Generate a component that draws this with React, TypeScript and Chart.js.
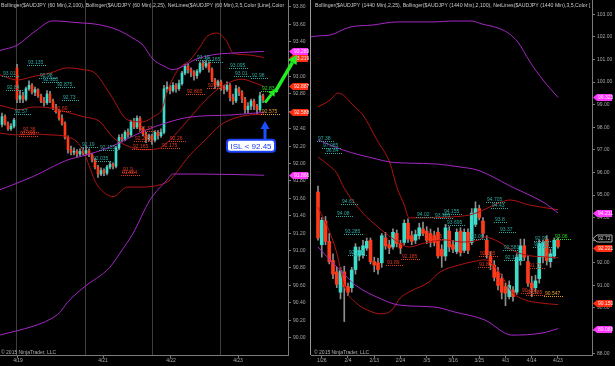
import { useEffect, useRef } from "react";
import { Chart, registerables } from "chart.js";

Chart.register(...registerables);

const FONT = '"Liberation Sans", Arial, sans-serif';

// ---------------- LEFT PANEL: AUDJPY 60 Min ----------------
const leftOpen = [92.45,92.54,92.46,92.40,92.43,93.10,92.74,92.78,92.74,92.86, 92.90,92.82,92.85,92.78,92.72,92.70,92.80,92.72,92.64,92.60, 92.52,92.46,92.30,92.16,92.13,92.14,92.11,92.14,92.12,92.15, 92.10,92.04,91.96,91.88,91.92,91.89,91.96,91.99,91.97,92.18, 92.30,92.28,92.36,92.33,92.48,92.42,92.52,92.40,92.34,92.28, 92.32,92.27,92.36,92.32,92.36,92.86,92.88,92.84,92.90,92.86, 92.92,93.04,93.12,93.08,93.05,93.01,93.06,93.15,93.12,93.15, 93.08,92.96,92.90,92.94,92.88,92.85,92.90,92.76,92.72,92.86, 92.82,92.74,92.62,92.66,92.72,92.66,92.62,92.78];
const leftHigh = [92.58,92.56,92.48,92.46,92.52,93.14,92.84,92.82,92.88,92.95, 92.92,92.88,92.86,92.80,92.76,92.84,92.83,92.74,92.68,92.62, 92.56,92.48,92.32,92.20,92.18,92.16,92.17,92.18,92.20,92.17, 92.12,92.06,91.98,91.95,91.94,91.98,92.02,92.01,92.20,92.33, 92.34,92.38,92.40,92.50,92.52,92.55,92.54,92.42,92.36,92.34, 92.34,92.38,92.38,92.40,92.90,92.94,92.90,92.93,92.92,92.96, 93.06,93.14,93.15,93.10,93.07,93.08,93.17,93.18,93.18,93.17, 93.10,92.98,92.96,92.96,92.90,92.94,92.92,92.80,92.90,92.88, 92.84,92.76,92.70,92.74,92.74,92.68,92.82,92.80];
const leftLow = [92.42,92.44,92.38,92.38,92.41,92.70,92.70,92.70,92.72,92.84, 92.80,92.78,92.76,92.70,92.66,92.68,92.70,92.62,92.58,92.50, 92.44,92.28,92.12,92.10,92.10,92.08,92.09,92.10,92.10,92.08, 92.02,91.94,91.84,91.86,91.86,91.87,91.94,91.94,91.95,92.16, 92.25,92.26,92.30,92.31,92.40,92.40,92.38,92.32,92.24,92.26, 92.22,92.25,92.28,92.30,92.34,92.82,92.80,92.82,92.82,92.84, 92.90,93.02,93.04,93.00,92.96,92.98,93.04,93.08,93.10,93.05, 92.94,92.86,92.88,92.84,92.80,92.83,92.72,92.68,92.70,92.78, 92.70,92.58,92.58,92.62,92.62,92.57,92.60,92.70];
const leftClose = [92.54,92.46,92.40,92.43,92.50,92.74,92.78,92.74,92.86,92.90, 92.82,92.85,92.78,92.72,92.70,92.80,92.72,92.64,92.60,92.52, 92.46,92.30,92.16,92.13,92.14,92.11,92.14,92.12,92.15,92.10, 92.04,91.96,91.88,91.92,91.89,91.96,91.99,91.97,92.18,92.30, 92.28,92.36,92.33,92.48,92.42,92.52,92.40,92.34,92.28,92.32, 92.27,92.36,92.32,92.36,92.86,92.88,92.84,92.90,92.86,92.92, 93.04,93.12,93.08,93.05,93.01,93.06,93.15,93.12,93.15,93.08, 92.96,92.90,92.94,92.88,92.85,92.90,92.76,92.72,92.86,92.82, 92.74,92.62,92.66,92.72,92.66,92.62,92.78,92.73];

const leftDateLabels = ["4/19", "4/21", "4/22", "4/23"];
const leftDateTickIdx = [5.33, 33.67, 56.33, 78.67];
const leftSessionBreaks = [4.5, 27.5, 50, 72.5];
const leftYTicks = [90.0,90.2,90.4,90.6,90.8,91.0,91.2,91.4,91.6,91.8,92.0,92.2,92.4,92.6,92.8,93.0,93.2,93.4,93.6,93.8];

const leftBB100Upper = [[-0.67,93.30],[5,93.36],[11,93.52],[17,93.64],[25,93.62],[31.7,93.60],[38.3,93.54],[43.7,93.44],[47,93.36],[50.3,93.20],[54,93.12],[57,93.08],[61,93.13],[64,93.19],[70.3,93.25],[77,93.27],[87.3,93.289]];
const leftBB100Mid = [[-0.67,91.70],[10.3,91.85],[21.7,92.04],[28.3,92.10],[36,92.19],[48.3,92.39],[55,92.47],[61.7,92.53],[77,92.56],[87.3,92.588]];
const leftBB100Lower = [[-0.67,90.03],[10.3,90.13],[16,90.21],[19.3,90.29],[21.7,90.40],[27,90.57],[36,90.81],[39.3,90.97],[43.7,91.20],[49.3,91.58],[55,91.81],[57,91.88],[66,91.88],[87.3,91.866]];
const leftBB25Upper = [[-0.67,93.02],[5,92.96],[10.3,93.0],[16,93.04],[21.7,93.10],[27,93.08],[31,93.04],[36,92.80],[42,92.50],[46.7,92.48],[51,92.55],[53.3,92.62],[55,92.82],[58.7,93.08],[62.7,93.19],[66,93.34],[68.3,93.46],[71.7,93.50],[75,93.40],[77,93.27],[81.7,93.25],[87.3,93.219]];
const leftBB25Mid = [[-0.67,92.67],[6,92.62],[10.3,92.65],[16,92.64],[21.7,92.59],[27,92.54],[32.7,92.48],[37,92.30],[42,92.20],[47,92.16],[52,92.17],[55,92.24],[60,92.42],[65,92.62],[70,92.80],[75,92.92],[80,92.97],[84,92.93],[87.3,92.887]];
const leftBB25Lower = [[-0.67,92.35],[5,92.33],[10.3,92.34],[16,92.33],[21.7,92.31],[25,92.25],[27,92.15],[29,91.98],[31,91.80],[33,91.70],[37,91.62],[41.7,91.73],[47,91.73],[53,91.76],[56,91.81],[57.5,91.87],[62.7,92.10],[67.7,92.27],[72.7,92.44],[79.3,92.54],[87.3,92.57]];

// NetLines levels: [price text, starting bar index, kind]
const leftLevels: [string, number, string][] = [
  ["93.135", 8.7, "c"], ["93.01", 0.3, "c"], ["92.98", 12.7, "c"], ["92.935", 13.7, "c"],
  ["92.84", 1.7, "c"], ["92.875", 18.3, "c"], ["92.73", 20.3, "c"], ["92.57", 4.3, "c"],
  ["92.19", 26.7, "c"], ["92.155", 32.7, "c"], ["92.035", 30.3, "c"], ["93.19", 65, "c"],
  ["93.165", 67.7, "c"], ["93.095", 76, "c"], ["93.01", 77.7, "c"], ["92.98", 83.3, "c"],
  ["92.60", 17.7, "r"], ["92.36", 7, "r"], ["92.315", 6, "r"], ["92.37", 46, "r"],
  ["92.255", 44.3, "r"], ["92.165", 43.7, "r"], ["92.26", 56, "r"], ["92.175", 53.3, "r"],
  ["91.9", 40.3, "r"], ["91.864", 40, "r"], ["92.87", 68.7, "r"], ["92.805", 61.7, "r"],
  ["92.575", 86.7, "o"], ["92.83", 86.7, "g"],
];
const leftMarkers: [string, string][] = [["93.289", "pink"], ["93.219", "red"], ["92.887", "red"], ["92.588", "red"], ["91.866", "pink"]];

// annotations (data coordinates): arrows [fromIdx, fromPrice, toIdx, toPrice]
const leftGreenArrows = [[87.67, 92.70, 91, 92.85], [91, 92.82, 98.3, 93.25]];
const leftBlueArrow = [87.67, 92.27, 87.67, 92.49];
const leftNote = { idx: 83, price: 92.204, text: "ISL < 92.45" };

// ---------------- RIGHT PANEL: AUDJPY 1440 Min ----------------
const rightOpen = [95.13,92.80,93.85,92.95,92.10,91.60,90.70,91.60,90.95,90.90, 91.70,92.30,92.35,92.65,93.00,92.05,92.00,92.00,93.10,92.80, 92.70,93.30,92.85,92.90,93.75,93.20,93.00,93.20,93.50,93.40, 93.30,93.20,93.35,92.60,92.30,93.40,92.80,92.50,93.40,92.55, 93.35,92.90,93.70,94.40,93.85,93.00,92.30,91.90,91.60,91.30, 90.95,90.50,90.80,90.70,92.10,92.75,92.05,91.10,90.90,91.30, 92.25,93.05,92.05,92.30,93.00];
const rightHigh = [95.40,94.00,94.05,93.30,92.40,91.80,91.80,91.85,91.10,91.80, 92.85,92.70,93.00,93.10,93.10,92.25,92.20,93.30,93.35,93.00, 93.50,93.45,93.00,93.90,93.95,93.40,93.45,93.75,93.80,93.60, 93.50,93.40,93.55,92.80,93.70,93.60,93.00,93.50,93.55,93.50, 93.50,94.40,94.70,94.55,94.00,93.20,92.50,92.10,91.80,91.50, 91.10,91.20,90.95,92.40,93.05,93.05,92.30,91.40,91.45,93.00, 93.00,93.20,92.60,93.10,93.10];
const rightLow = [93.00,92.25,92.80,91.95,91.30,90.90,90.40,89.40,90.55,90.70, 91.50,92.10,92.20,92.55,91.95,91.60,91.50,91.80,92.60,92.40, 92.60,92.70,92.40,92.80,92.90,92.80,92.85,93.05,93.20,92.85, 92.70,92.75,92.20,91.80,92.10,92.50,92.45,92.40,92.30,92.45, 92.40,92.80,93.60,93.90,93.10,92.20,91.70,91.20,90.80,90.40, 90.10,90.40,90.30,90.60,91.90,92.10,90.95,90.50,90.70,91.10, 92.00,91.90,91.80,92.20,92.65];
const rightClose = [93.10,93.88,92.95,92.05,91.50,91.05,91.65,90.95,90.70,91.68, 92.70,92.55,92.75,92.95,92.05,91.90,91.70,93.20,92.75,92.65, 93.35,92.85,92.65,93.75,93.05,92.95,93.25,93.55,93.30,93.00, 92.90,92.90,92.30,92.30,93.55,92.70,92.60,93.35,92.45,93.35, 92.55,94.20,94.40,94.00,93.30,92.35,91.90,91.35,91.00,90.70, 90.65,91.00,90.50,92.25,92.75,92.25,91.10,90.90,91.20,92.85, 92.90,92.10,92.40,93.00,92.72];

const rightDateLabels = ["1/26", "2/4", "2/13", "2/24", "3/5", "3/16", "3/25", "4/3", "4/14", "4/23"];
const rightDateTickIdx = [1, 8, 15, 22, 29, 36, 43, 50, 57, 64];
const rightYTicks = [88,89,90,91,92,93,94,95,96,97,98,99,100,101,102,103];

const rightBB100Upper = [[-1.9,102.00],[0,102.04],[3.2,102.08],[8.5,102.43],[14.4,102.52],[21.3,102.66],[31.2,102.66],[35.7,102.70],[41,102.70],[43.7,102.57],[48,102.39],[50.7,102.17],[53.3,101.77],[56.5,100.90],[60,100.09],[64,99.323]];
const rightBB100Mid = [[0,97.44],[6.7,96.99],[15.7,96.59],[19.2,96.46],[24.5,96.41],[31.7,96.37],[37.9,96.24],[42.4,96.11],[46.7,95.80],[51.2,95.40],[54.7,95.13],[60,94.69],[64,94.211]];
const rightBB100Lower = [[0,92.70],[3.7,92.04],[7.2,91.46],[9.9,91.02],[16.3,90.44],[21.6,90.13],[31.2,90.04],[36.5,89.82],[44.5,89.47],[51.7,88.80],[60,88.90],[64,89.088]];
const rightBB25Upper = [[0,98.90],[3.2,99.20],[5.3,99.51],[6.7,99.43],[9.3,98.98],[12,98.54],[15.7,97.44],[19.2,96.41],[21,95.36],[23,94.56],[24.3,93.99],[28.5,93.99],[35.7,94.03],[40.5,94.12],[42.9,94.25],[48.3,94.65],[51.2,94.78],[56.3,94.56],[64,94.35]];
const rightBB25Mid = [[0,96.68],[3,96.30],[5,95.97],[7,95.30],[11.7,94.25],[16.3,93.54],[19.7,93.10],[24.3,92.70],[28.5,92.88],[33.9,93.01],[38.4,92.92],[42.9,93.01],[44.5,93.14],[48.3,92.92],[51.7,92.57],[55.2,92.35],[60.5,92.26],[64,92.221]];
const rightBB25Lower = [[0,94.46],[3,93.40],[5,92.44],[7.2,90.88],[9.9,90.27],[15.2,89.78],[17,89.74],[19.7,89.91],[21.9,90.44],[24.3,90.71],[29.6,91.15],[32.5,91.59],[37.6,91.90],[41,92.04],[44.5,92.13],[48.3,91.59],[51.7,90.71],[55.2,90.36],[58.9,90.23],[64,90.15]];

const rightLevels: [string, number, string][] = [
  ["97.38", 0, "c"], ["97.085", 1.3, "c"], ["96.84", 2.1, "c"], ["94.61", 6.4, "c"],
  ["94.08", 5.1, "c"], ["93.285", 7.2, "c"], ["92.335", 8.3, "c"], ["94.02", 26.4, "c"],
  ["93.985", 31.2, "c"], ["94.155", 33.6, "c"], ["93.695", 34.4, "c"], ["93.06", 40.8, "c"],
  ["94.705", 45.1, "c"], ["94.43", 46.4, "c"], ["93.8", 47.2, "c"], ["93.37", 48.5, "c"],
  ["92.581", 49.6, "c"], ["92.135", 49.9, "c"], ["92.95", 57.9, "c"], ["92.705", 57.6, "c"],
  ["92.185", 22.4, "r"], ["91.89", 18.4, "r"], ["93.035", 29.1, "r"], ["92.305", 43.2, "r"],
  ["91.8", 42.9, "r"], ["91.78", 56.3, "r"], ["90.68", 54.4, "r"], ["90.585", 55.7, "r"],
  ["90.547", 60.5, "o"], ["93.06", 63.2, "g"],
];
const rightMarkers: [string, string][] = [["99.323", "pink"], ["94.211", "pink"], ["92.72", "box"], ["92.221", "red"], ["90.150", "red"], ["89.088", "pink"]];
const rightMarkerNudge: Record<string, number> = { "92.72": -9, "92.221": -10, "90.150": -2 };

const leftHeader = "Bollinger($AUDJPY (60 Min),2,100), Bollinger($AUDJPY (60 Min),2,25), NetLines($AUDJPY (60 Min),3,5,Color [Line],Color";
const rightHeader = "Bollinger($AUDJPY (1440 Min),2,25), Bollinger($AUDJPY (1440 Min),2,100), NetLines($AUDJPY (1440 Min),3,5,Color [";
const copyright = "\u00A9 2015 NinjaTrader, LLC";

// ---------------- styling ----------------
const UP = "#3ddccb";
const DOWN = "#ff3a1a";
const WICK = "#8e8e8e";
const PURPLE = "#a526c4";
const DARKRED = "#b01414";
const AXIS = "#7a7a7a";
const LEVEL_COL: Record<string, string> = { c: "#2ea8a0", r: "#e0381e", o: "#e8a020", g: "#2bd62b" };
const MARK_COL: Record<string, string> = { pink: "#ff38ff", red: "#ff2e12" };

function drawArrow(ctx: CanvasRenderingContext2D, x1: number, y1: number, x2: number, y2: number, color: string, shaft: number, headLen: number, headHalf: number) {
  const a = Math.atan2(y2 - y1, x2 - x1);
  const bx = x2 - headLen * Math.cos(a);
  const by = y2 - headLen * Math.sin(a);
  ctx.strokeStyle = color;
  ctx.lineWidth = shaft;
  ctx.lineCap = "butt";
  ctx.beginPath();
  ctx.moveTo(x1, y1);
  ctx.lineTo(bx, by);
  ctx.stroke();
  ctx.fillStyle = color;
  ctx.beginPath();
  ctx.moveTo(x2, y2);
  ctx.lineTo(bx + headHalf * Math.sin(a), by - headHalf * Math.cos(a));
  ctx.lineTo(bx - headHalf * Math.sin(a), by + headHalf * Math.cos(a));
  ctx.closePath();
  ctx.fill();
}

function fittedText(ctx: CanvasRenderingContext2D, text: string, x: number, y: number, maxW: number, size: number) {
  ctx.font = `${size}px ${FONT}`;
  const w = ctx.measureText(text).width;
  if (w > maxW) ctx.font = `${(size * maxW) / w}px ${FONT}`;
  ctx.fillText(text, x, y);
}

type Spec = {
  open: number[]; high: number[]; low: number[]; close: number[];
  xMin: number; xMax: number; yMin: number; yMax: number;
  yTicks: number[]; xTickIdx: number[]; xLabels: string[];
  bodyW: number; axisW: number; padLeft: number;
  lines: { pts: number[][]; color: string }[];
  levels: [string, number, string][];
  markers: [string, string][];
  nudge: Record<string, number>;
  breaks: number[];
  header: string; headerX: number; headerW: number;
  copyX: number; leftBorder: boolean; annotate: boolean;
};

function overlay(s: Spec) {
  return {
    id: "overlay",
    beforeDatasetsDraw(chart: any) {
      const { ctx, chartArea, scales } = chart;
      ctx.save();
      ctx.strokeStyle = "#3e3e3e";
      ctx.lineWidth = 1;
      for (const b of s.breaks) {
        const px = Math.round(scales.x.getPixelForValue(b)) + 0.5;
        ctx.beginPath();
        ctx.moveTo(px, chartArea.top);
        ctx.lineTo(px, chartArea.bottom);
        ctx.stroke();
      }
      ctx.restore();
    },
    afterDatasetsDraw(chart: any) {
      const { ctx, scales } = chart;
      ctx.save();
      ctx.font = `5px ${FONT}`;
      ctx.textBaseline = "alphabetic";
      ctx.textAlign = "left";
      for (const [txt, idx, kind] of s.levels) {
        const px = Math.round(scales.x.getPixelForValue(idx));
        const py = Math.round(scales.y.getPixelForValue(parseFloat(txt)));
        const col = LEVEL_COL[kind];
        const w = ctx.measureText(txt).width;
        ctx.fillStyle = col;
        ctx.fillText(txt, px, py - 1);
        for (let d = px - 1; d < px + w + 3; d += 2) ctx.fillRect(d, py, 1, 1);
      }
      ctx.restore();
    },
    afterDraw(chart: any) {
      const { ctx, chartArea, scales } = chart;
      ctx.save();
      // panel border
      if (s.leftBorder) {
        ctx.strokeStyle = "#9a9a9a";
        ctx.lineWidth = 1;
        ctx.beginPath();
        ctx.moveTo(chartArea.left - 0.5, 0);
        ctx.lineTo(chartArea.left - 0.5, chartArea.bottom);
        ctx.stroke();
      }
      // header + copyright
      ctx.fillStyle = "#c8c8c8";
      ctx.textBaseline = "middle";
      ctx.textAlign = "left";
      fittedText(ctx, s.header, s.headerX, 6, s.headerW, 5.2);
      ctx.fillStyle = "#b0b0b0";
      fittedText(ctx, copyright, s.copyX, 353, 60, 5);
      // price markers
      const x0 = chartArea.right + 1;
      for (const [txt, kind] of s.markers) {
        const py = Math.round(scales.y.getPixelForValue(parseFloat(txt))) + (s.nudge[txt] || 0) + 0.5;
        ctx.beginPath();
        ctx.moveTo(x0, py);
        ctx.lineTo(x0 + 4, py - 3.5);
        ctx.lineTo(x0 + 19, py - 3.5);
        ctx.lineTo(x0 + 19, py + 3.5);
        ctx.lineTo(x0 + 4, py + 3.5);
        ctx.closePath();
        if (kind === "box") {
          ctx.fillStyle = "#000";
          ctx.fill();
          ctx.strokeStyle = "#b0b0b0";
          ctx.lineWidth = 1;
          ctx.stroke();
          ctx.fillStyle = "#d0d0d0";
        } else {
          ctx.fillStyle = MARK_COL[kind];
          ctx.fill();
          ctx.fillStyle = kind === "pink" ? "#ffe0ff" : "#ffe8e0";
        }
        ctx.font = `5px ${FONT}`;
        ctx.textBaseline = "middle";
        ctx.fillText(txt, x0 + 5, py);
      }
      // annotations
      if (s.annotate) {
        const X = (v: number) => scales.x.getPixelForValue(v);
        const Y = (v: number) => scales.y.getPixelForValue(v);
        for (const [a, b, c, d] of leftGreenArrows) {
          const big = c - a > 5;
          drawArrow(ctx, X(a), Y(b), X(c), Y(d), "#22ee22", big ? 3.5 : 3, big ? 9 : 6, big ? 5 : 4);
        }
        const bx = X(leftNote.idx);
        const by = Y(leftNote.price);
        const w = 48;
        const h = 12;
        ctx.beginPath();
        (ctx as any).roundRect(bx - w / 2, by - h / 2, w, h, 3);
        ctx.fillStyle = "#ffffff";
        ctx.fill();
        ctx.strokeStyle = "#1a44ff";
        ctx.lineWidth = 2;
        ctx.stroke();
        ctx.fillStyle = "#1a3cf0";
        ctx.font = `8px ${FONT}`;
        ctx.textAlign = "center";
        ctx.textBaseline = "middle";
        ctx.fillText(leftNote.text, bx, by + 0.5);
        const [a, b, c, d] = leftBlueArrow;
        drawArrow(ctx, X(a), Y(b), X(c), Y(d), "#1a50ff", 3, 8, 4.5);
      }
      ctx.restore();
    },
  };
}

function buildConfig(s: Spec): any {
  const body = s.open.map((o, i) => ({ x: i, y: [o, s.close[i]] }));
  const wick = s.open.map((_, i) => ({ x: i, y: [s.low[i], s.high[i]] }));
  const colors = s.open.map((o, i) => (s.close[i] >= o ? UP : DOWN));
  return {
    type: "bar",
    data: {
      datasets: [
        ...s.lines.map((l) => ({
          type: "line",
          data: l.pts.map(([x, y]) => ({ x, y })),
          borderColor: l.color,
          borderWidth: 1,
          pointRadius: 0,
          fill: false,
          cubicInterpolationMode: "monotone",
          order: 0,
        })),
        { type: "bar", data: body, backgroundColor: colors, barThickness: s.bodyW, grouped: false, minBarLength: 1, borderWidth: 0, order: 1 },
        { type: "bar", data: wick, backgroundColor: WICK, barThickness: 1, grouped: false, borderWidth: 0, order: 2 },
      ],
    },
    options: {
      responsive: false,
      maintainAspectRatio: false,
      animation: false,
      devicePixelRatio: 1,
      events: [],
      layout: { padding: { left: s.padLeft, right: 0, top: 0, bottom: 0 } },
      plugins: { legend: { display: false }, tooltip: { enabled: false }, title: { display: false } },
      scales: {
        x: {
          type: "linear",
          min: s.xMin,
          max: s.xMax,
          position: "bottom",
          offset: false,
          grid: { display: true, drawOnChartArea: false, drawTicks: true, tickLength: 3, color: AXIS, offset: false },
          border: { display: true, color: AXIS },
          ticks: {
            autoSkip: false,
            maxRotation: 0,
            color: "#a8a8a8",
            font: { size: 5, family: FONT },
            padding: 0,
            callback: (_v: any, i: number) => s.xLabels[i] ?? "",
          },
          afterBuildTicks: (sc: any) => {
            sc.ticks = s.xTickIdx.map((v) => ({ value: v }));
          },
          afterFit: (sc: any) => {
            sc.height = 11;
            sc.paddingLeft = 0;
            sc.paddingRight = 0;
          },
        },
        y: {
          type: "linear",
          position: "right",
          min: s.yMin,
          max: s.yMax,
          grid: { display: true, drawOnChartArea: false, drawTicks: true, tickLength: 3, color: AXIS },
          border: { display: true, color: AXIS },
          ticks: {
            autoSkip: false,
            color: "#a8a8a8",
            font: { size: 5, family: FONT },
            padding: 2,
            callback: (v: any) => Number(v).toFixed(2),
          },
          afterBuildTicks: (sc: any) => {
            sc.ticks = s.yTicks.map((v) => ({ value: v }));
          },
          afterFit: (sc: any) => {
            sc.width = s.axisW;
            sc.paddingTop = 0;
            sc.paddingBottom = 0;
          },
        },
      },
    },
    plugins: [overlay(s)],
  };
}

const leftSpec: Spec = {
  open: leftOpen, high: leftHigh, low: leftLow, close: leftClose,
  xMin: -0.667, xMax: 95.333, yMin: 89.8, yMax: 93.88,
  yTicks: leftYTicks, xTickIdx: leftDateTickIdx, xLabels: leftDateLabels,
  bodyW: 2, axisW: 22, padLeft: 0,
  lines: [
    { pts: leftBB100Upper, color: PURPLE }, { pts: leftBB100Mid, color: PURPLE }, { pts: leftBB100Lower, color: PURPLE },
    { pts: leftBB25Upper, color: DARKRED }, { pts: leftBB25Mid, color: DARKRED }, { pts: leftBB25Lower, color: DARKRED },
  ],
  levels: leftLevels, markers: leftMarkers, nudge: {}, breaks: leftSessionBreaks,
  header: leftHeader, headerX: 1, headerW: 285, copyX: 1, leftBorder: false, annotate: true,
};

const rightSpec: Spec = {
  open: rightOpen, high: rightHigh, low: rightLow, close: rightClose,
  xMin: -1.867, xMax: 73.07, yMin: 87.92, yMax: 103.63,
  yTicks: rightYTicks, xTickIdx: rightDateTickIdx, xLabels: rightDateLabels,
  bodyW: 3, axisW: 23, padLeft: 1,
  lines: [
    { pts: rightBB100Upper, color: PURPLE }, { pts: rightBB100Mid, color: PURPLE }, { pts: rightBB100Lower, color: PURPLE },
    { pts: rightBB25Upper, color: DARKRED }, { pts: rightBB25Mid, color: DARKRED }, { pts: rightBB25Lower, color: DARKRED },
  ],
  levels: rightLevels, markers: rightMarkers, nudge: rightMarkerNudge, breaks: [],
  header: rightHeader, headerX: 5, headerW: 275, copyX: 4, leftBorder: true, annotate: false,
};

export default function App() {
  const leftRef = useRef<HTMLCanvasElement>(null);
  const rightRef = useRef<HTMLCanvasElement>(null);
  useEffect(() => {
    const c1 = new Chart(leftRef.current as HTMLCanvasElement, buildConfig(leftSpec));
    const c2 = new Chart(rightRef.current as HTMLCanvasElement, buildConfig(rightSpec));
    return () => {
      c1.destroy();
      c2.destroy();
    };
  }, []);
  return (
    <div style={{ position: "fixed", left: 0, top: 0, width: 615, height: 366, background: "#000", overflow: "hidden" }}>
      <div style={{ position: "absolute", left: 0, top: 0, width: 310, height: 366 }}>
        <canvas ref={leftRef} width={310} height={366} style={{ display: "block" }} />
      </div>
      <div style={{ position: "absolute", left: 310, top: 0, width: 305, height: 366 }}>
        <canvas ref={rightRef} width={305} height={366} style={{ display: "block" }} />
      </div>
    </div>
  );
}
